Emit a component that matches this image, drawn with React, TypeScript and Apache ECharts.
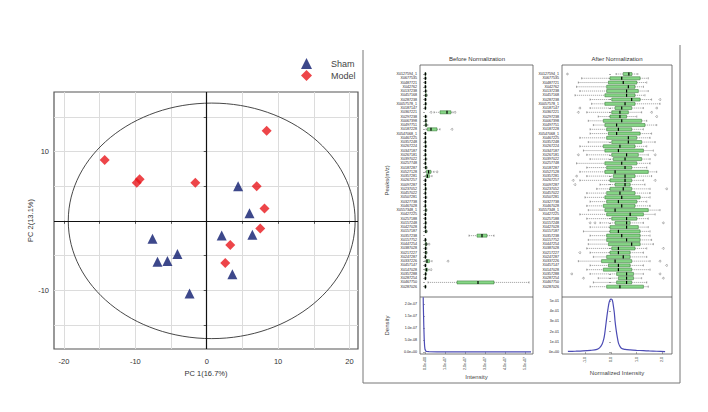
import React, { useEffect, useRef } from "react";
import * as echarts from "echarts";

// ---------- PCA scores ----------
const shamPoints = [
  [4.4, 5.0], [6.0, 1.1], [6.4, -2.0], [2.1, -2.1], [3.6, -7.7],
  [-7.6, -2.6], [-6.9, -5.9], [-5.5, -5.8], [-4.1, -4.8], [-2.4, -10.5],
];
const modelPoints = [
  [8.4, 13.0], [-14.3, 8.8], [-9.8, 5.5], [-9.4, 6.0], [-1.6, 5.5],
  [7.0, 5.0], [8.1, 1.8], [7.5, -1.1], [3.3, -3.5], [2.6, -6.1],
];
// [centerX, centerY, radiusX, radiusY] of the confidence ellipse
const ellipse = [0.7, 0, 20.1, 17.0];
const pcaXLabels = [-20, -10, 0, 10, 20];
const pcaXTicks = [-20, -15, -10, -5, 0, 5, 10, 15, 20];
const pcaYLabels = [-10, 10];
const pcaYTicks = [-15, -10, -5, 0, 5, 10, 15];

// ---------- Normalization plots ----------
const peakLabels = [
  "X0127594_1", "X0677535", "X0487721", "X042762", "X0137238", "X0457168", "X0287238",
  "X0057578_1", "X0187147", "X0367221", "X0297238", "X0067398", "X0497751", "X0187228",
  "X0547068_1", "X0467225", "X0357248", "X0267224", "X0347187", "X0267181", "X0397022",
  "X0257748", "X0187287", "X0527128", "X0357281", "X0267257", "X0097287", "X0237052",
  "X0457022", "X0507281", "X0327738", "X0467028", "X0557348_1", "X0427225", "X0257188",
  "X0157248", "X0427028", "X0157187", "X0357238", "X0157752", "X0447254", "X0387028",
  "X0217227", "X0247287", "X0337226", "X0457147", "X0147028", "X0357288", "X0287254",
  "X0467750", "X0287026",
];

// intensity in units of 1e7: [lowWhisker, Q1, median, Q3, highWhisker]
const beforeBoxes = [
  [0, 0.01, 0.02, 0.03, 0.06], [0, 0.01, 0.02, 0.04, 0.07], [0, 0.01, 0.02, 0.03, 0.05],
  [0, 0.01, 0.02, 0.04, 0.06], [0, 0.02, 0.03, 0.05, 0.09], [0, 0.02, 0.04, 0.07, 0.12],
  [0, 0.01, 0.02, 0.04, 0.07], [0, 0.01, 0.03, 0.05, 0.08], [0, 0.01, 0.02, 0.03, 0.05],
  [0.45, 0.75, 1.1, 1.3, 1.4], [0, 0.01, 0.03, 0.05, 0.09], [0, 0.02, 0.04, 0.06, 0.1],
  [0, 0.02, 0.05, 0.08, 0.14], [0.05, 0.12, 0.3, 0.6, 0.75], [0, 0.01, 0.02, 0.04, 0.06],
  [0, 0.01, 0.02, 0.03, 0.05], [0, 0.01, 0.02, 0.04, 0.07], [0, 0.01, 0.03, 0.05, 0.08],
  [0, 0.01, 0.02, 0.03, 0.06], [0, 0.01, 0.02, 0.04, 0.07], [0, 0.02, 0.03, 0.05, 0.09],
  [0, 0.01, 0.02, 0.04, 0.06], [0, 0.02, 0.04, 0.07, 0.11], [0.02, 0.08, 0.18, 0.3, 0.45],
  [0.01, 0.06, 0.12, 0.22, 0.35], [0, 0.01, 0.02, 0.04, 0.07], [0, 0.01, 0.02, 0.03, 0.05],
  [0, 0.01, 0.03, 0.05, 0.08], [0, 0.01, 0.02, 0.04, 0.06], [0, 0.02, 0.03, 0.05, 0.09],
  [0, 0.01, 0.02, 0.04, 0.07], [0, 0.01, 0.02, 0.03, 0.05], [0, 0.02, 0.04, 0.06, 0.1],
  [0, 0.01, 0.02, 0.04, 0.07], [0, 0.01, 0.02, 0.03, 0.06], [0, 0.01, 0.03, 0.05, 0.08],
  [0, 0.01, 0.02, 0.04, 0.06], [0, 0.02, 0.04, 0.07, 0.12], [2.2, 2.6, 2.85, 3.1, 3.45],
  [0, 0.01, 0.02, 0.04, 0.07], [0, 0.02, 0.05, 0.08, 0.13], [0, 0.01, 0.03, 0.05, 0.09],
  [0, 0.02, 0.04, 0.07, 0.11], [0, 0.01, 0.02, 0.04, 0.07], [0, 0.05, 0.1, 0.22, 0.35],
  [0, 0.01, 0.02, 0.04, 0.06], [0, 0.03, 0.07, 0.12, 0.2], [0, 0.01, 0.03, 0.05, 0.08],
  [0, 0.01, 0.02, 0.04, 0.06], [0.15, 1.6, 2.65, 3.45, 5.2], [0, 0.01, 0.02, 0.03, 0.06],
];
// [rowIndex, value]
const beforeOutliers = [
  [9, 0.3], [9, 1.5], [13, 1.35], [44, 1.15], [23, 0.6], [46, 0.3], [40, 0.2],
];

// normalized intensity: [lowWhisker, Q1, median, Q3, highWhisker]
const afterBoxes = [
  [0.2, 0.48, 0.7, 0.82, 1.05], [-1.15, -0.04, 0.42, 1.14, 1.46], [-1.28, -0.1, 0.48, 1.01, 1.4],
  [-1.35, -0.17, 0.68, 0.94, 1.27], [-1.22, -0.17, 0.61, 1.07, 1.46], [-1.41, -0.24, 0.61, 0.94, 1.33],
  [-0.82, 0.03, 0.81, 1.14, 1.59], [-0.76, -0.24, 0.55, 0.94, 1.92], [-0.82, 0.16, 0.42, 0.81, 1.27],
  [-0.95, 0.03, 0.35, 0.68, 1.2], [-0.5, -0.04, 0.35, 0.61, 1.01], [-0.89, -0.3, 0.42, 1.2, 1.4],
  [-0.69, -0.24, 0.22, 1.33, 1.79], [-0.82, -0.17, 0.29, 0.81, 1.27], [-0.82, -0.1, 0.22, 1.14, 1.59],
  [-1.22, -0.17, 0.68, 1.01, 1.53], [-0.89, 0.03, 0.68, 1.2, 1.73], [-1.22, -0.3, 0.35, 0.94, 1.4],
  [-1.08, -0.24, 0.29, 1.27, 1.66], [-0.95, 0.03, 0.61, 1.07, 1.46], [-0.82, 0.09, 0.55, 1.2, 1.53],
  [-1.35, -0.24, 0.42, 1.01, 1.53], [-0.95, -0.17, 0.55, 0.81, 1.4], [-1.22, -0.24, 0.16, 1.46, 1.79],
  [-0.95, 0.09, 0.55, 0.94, 1.59], [-1.22, -0.04, 0.55, 0.81, 1.27], [-0.43, 0.16, 0.55, 0.75, 1.33],
  [-0.56, -0.04, 0.48, 0.81, 1.53], [-0.95, -0.17, 0.35, 0.94, 1.53], [-1.02, -0.24, 0.42, 1.14, 1.53],
  [-0.82, -0.17, 0.29, 1.01, 1.4], [-0.95, -0.3, 0.42, 0.94, 1.53], [-0.89, -0.24, 0.16, 1.46, 1.92],
  [-1.22, -0.17, 0.75, 1.27, 1.73], [-0.95, 0.03, 0.61, 1.01, 1.46], [-0.43, 0.16, 0.61, 0.75, 1.27],
  [-0.82, -0.04, 0.61, 1.07, 1.46], [-1.08, -0.04, 0.29, 1.14, 1.53], [-0.82, -0.17, 0.42, 1.14, 1.53],
  [-0.89, -0.17, 0.61, 1.14, 1.59], [-0.89, -0.1, 0.81, 1.14, 1.66], [-0.95, 0.03, 0.29, 0.94, 1.4],
  [-0.82, -0.04, 0.29, 0.75, 1.27], [-0.69, -0.17, 0.48, 0.75, 1.4], [-1.28, -0.37, 0.16, 0.81, 1.53],
  [-0.82, -0.1, 0.29, 0.75, 1.27], [-0.95, -0.3, 0.29, 0.81, 1.53], [-0.82, 0.22, 0.61, 0.88, 1.27],
  [-0.5, 0.29, 0.61, 0.88, 1.2], [-0.69, 0.22, 0.61, 0.81, 1.4], [-0.82, -0.17, 0.35, 1.27, 1.46],
];
const afterOutliers = [
  [0, -1.71], [6, 1.92], [8, -1.22], [8, 1.79], [9, -1.28], [9, 1.59], [10, 1.79],
  [19, -1.28], [19, 1.73], [24, -1.35], [25, -1.48], [25, 1.73], [26, -1.41], [27, 2.18],
  [35, -0.82], [35, -0.63], [35, 2.05], [41, 2.05], [42, -1.22], [44, 1.92], [45, 2.18],
  [47, -1.54], [47, 1.92], [48, -1.08], [48, 2.05],
];

// density curves [x, density]
const beforeDensity = [
  [-0.09, 4.55], [-0.08, 3.6], [-0.06, 2.2], [-0.04, 1.1], [-0.02, 0.5], [0.0, 0.22],
  [0.03, 0.09], [0.08, 0.04], [0.2, 0.02], [0.6, 0.01], [1.5, 0.008], [2.5, 0.006],
  [3.5, 0.004], [4.5, 0.003], [5.3, 0.002],
];
const afterDensity = [
  [-1.69, 0.05], [-1.4, 0.07], [-1.1, 0.1], [-0.8, 0.16], [-0.55, 0.25], [-0.45, 0.4],
  [-0.35, 0.75], [-0.28, 1.3], [-0.24, 1.9], [-0.2, 2.7], [-0.16, 3.5], [-0.12, 4.2],
  [-0.08, 4.8], [-0.04, 5.1], [0.0, 5.2], [0.04, 5.15], [0.07, 4.9], [0.1, 4.4],
  [0.13, 3.85], [0.16, 3.0], [0.2, 2.2], [0.25, 1.4], [0.29, 0.9], [0.35, 0.55],
  [0.42, 0.33], [0.55, 0.25], [0.75, 0.2], [1.0, 0.16], [1.27, 0.13], [1.5, 0.1],
  [1.79, 0.07], [2.12, 0.04],
];

const beforeXTicks = [0, 1, 2, 3, 4, 5];
const beforeXTickLabels = ["0.0e+00", "1.0e+07", "2.0e+07", "3.0e+07", "4.0e+07", "5.0e+07"];
const beforeYTicks = [0, 1, 2, 3, 4];
const beforeYTickLabels = ["0.0e+00", "5.0e-08", "1.0e-07", "1.5e-07", "2.0e-07"];
const afterXTicks = [-1, 0, 1, 2];
const afterXTickLabels = ["-1.0", "0.0", "1.0", "2.0"];
const afterYTicks = [0, 1, 2, 3, 4, 5];
const afterYTickLabels = ["0e+00", "1e-01", "2e-01", "3e-01", "4e-01", "5e-01"];

const FONT = "'Liberation Sans', Arial, sans-serif";

function renderBox(params: any, api: any) {
  const row = api.value(0);
  const lo = api.coord([api.value(1), row]);
  const q1 = api.coord([api.value(2), row]);
  const med = api.coord([api.value(3), row]);
  const q3 = api.coord([api.value(4), row]);
  const hi = api.coord([api.value(5), row]);
  const band = api.size([0, 1])[1];
  const h = band * 0.72;
  const y = lo[1];
  const dash = { stroke: "#555", lineWidth: 0.5, lineDash: [1.2, 0.8] };
  const solid = { stroke: "#555", lineWidth: 0.5 };
  return {
    type: "group",
    children: [
      { type: "line", shape: { x1: lo[0], y1: y, x2: q1[0], y2: y }, style: dash },
      { type: "line", shape: { x1: q3[0], y1: y, x2: hi[0], y2: y }, style: dash },
      { type: "line", shape: { x1: lo[0], y1: y - h / 3, x2: lo[0], y2: y + h / 3 }, style: solid },
      { type: "line", shape: { x1: hi[0], y1: y - h / 3, x2: hi[0], y2: y + h / 3 }, style: solid },
      {
        type: "rect",
        shape: { x: q1[0], y: y - h / 2, width: Math.max(q3[0] - q1[0], 0.6), height: h },
        style: { fill: "#86d686", stroke: "#2f6f2f", lineWidth: 0.5 },
      },
      { type: "line", shape: { x1: med[0], y1: y - h / 2, x2: med[0], y2: y + h / 2 }, style: { stroke: "#000", lineWidth: 1.2 } },
    ],
  };
}

function renderEllipse(params: any, api: any) {
  const c = api.coord([api.value(0), api.value(1)]);
  const s = api.size([api.value(2), api.value(3)]);
  return {
    type: "ellipse",
    shape: { cx: c[0], cy: c[1], rx: s[0], ry: s[1] },
    style: { fill: "none", stroke: "#333", lineWidth: 0.9 },
    silent: true,
  };
}

const tickFmt = (ticks: number[], labels: string[]) => (v: number) => {
  const i = ticks.findIndex((t) => Math.abs(t - v) < 1e-9);
  return i >= 0 ? labels[i] : "";
};

export default function App() {
  const ref = useRef<HTMLDivElement>(null);
  useEffect(() => {
    if (!ref.current) return;
    const chart = echarts.init(ref.current, undefined, { renderer: "svg" });
    const smallLabel = { fontSize: 3.6, color: "#222", fontFamily: FONT };
    const smallTick = { show: true, length: 2, lineStyle: { color: "#555", width: 0.5 } };
    const outlierStyle = { color: "transparent", borderColor: "#555", borderWidth: 0.5 };
    const option: any = {
      animation: false,
      backgroundColor: "#fff",
      textStyle: { fontFamily: FONT },
      legend: {
        data: ["Sham", "Model"],
        orient: "vertical",
        left: 301,
        top: 58,
        padding: 0,
        itemWidth: 11,
        itemHeight: 11,
        itemGap: 1,
        textStyle: { fontSize: 9, color: "#444", padding: [0, 0, 0, 14], fontFamily: FONT },
      },
      grid: [
        { left: 54, top: 92, width: 304, height: 257, show: true, borderColor: "#555", borderWidth: 1.2, backgroundColor: "transparent" },
        { left: 420, top: 71.9, width: 113, height: 216.9 },
        { left: 420, top: 297, width: 113, height: 57 },
        { left: 562, top: 71.9, width: 110, height: 216.9 },
        { left: 562, top: 297, width: 110, height: 57 },
      ],
      xAxis: [
        {
          gridIndex: 0, type: "value", min: -21.4, max: 21.2,
          axisLine: { show: false },
          axisTick: { show: true, length: 3, customValues: pcaXTicks, lineStyle: { color: "#555" } },
          axisLabel: { customValues: pcaXLabels, fontSize: 7.5, color: "#333", margin: 8 },
          splitLine: { show: true, lineStyle: { color: "#dcdcdc", width: 1 } },
          name: "PC 1(16.7%)", nameLocation: "middle", nameGap: 19,
          nameTextStyle: { fontSize: 7.5, color: "#333" },
        },
        {
          gridIndex: 1, type: "value", min: -0.25, max: 5.4,
          axisLine: { show: false }, axisTick: { show: false }, axisLabel: { show: false }, splitLine: { show: false },
        },
        {
          gridIndex: 2, type: "value", min: -0.25, max: 5.4,
          axisLine: { show: false },
          axisTick: { ...smallTick, customValues: beforeXTicks },
          axisLabel: { ...smallLabel, customValues: beforeXTicks, rotate: 90, margin: 3, formatter: tickFmt(beforeXTicks, beforeXTickLabels) },
          splitLine: { show: false },
          name: "Intensity", nameLocation: "middle", nameGap: 16,
          nameTextStyle: { fontSize: 6, color: "#444" },
        },
        {
          gridIndex: 3, type: "value", min: -1.92, max: 2.39,
          axisLine: { show: false }, axisTick: { show: false }, axisLabel: { show: false }, splitLine: { show: false },
        },
        {
          gridIndex: 4, type: "value", min: -1.92, max: 2.39,
          axisLine: { show: false },
          axisTick: { ...smallTick, customValues: afterXTicks },
          axisLabel: { ...smallLabel, customValues: afterXTicks, rotate: 90, margin: 3, formatter: tickFmt(afterXTicks, afterXTickLabels) },
          splitLine: { show: false },
          name: "Normalized Intensity", nameLocation: "middle", nameGap: 16,
          nameTextStyle: { fontSize: 6, color: "#444" },
        },
      ],
      yAxis: [
        {
          gridIndex: 0, type: "value", min: -18.5, max: 18.6,
          axisLine: { show: false },
          axisTick: { show: true, length: 3, customValues: pcaYTicks, lineStyle: { color: "#555" } },
          axisLabel: { customValues: pcaYLabels, fontSize: 7.5, color: "#333", margin: 5 },
          splitLine: { show: true, lineStyle: { color: "#dcdcdc", width: 1 } },
          name: "PC 2(13.1%)", nameLocation: "middle", nameGap: 18,
          nameTextStyle: { fontSize: 7.5, color: "#333" },
        },
        {
          gridIndex: 1, type: "category", data: peakLabels, inverse: true,
          axisLine: { show: false },
          axisTick: { ...smallTick, interval: 0, alignWithLabel: true },
          axisLabel: { ...smallLabel, interval: 0, margin: 3 },
          splitLine: { show: false },
          name: "Peaks(m/z)", nameLocation: "middle", nameGap: 30,
          nameTextStyle: { fontSize: 6, color: "#444" },
        },
        {
          gridIndex: 2, type: "value", min: -0.17, max: 4.58,
          axisLine: { show: false },
          axisTick: { ...smallTick, customValues: beforeYTicks },
          axisLabel: { ...smallLabel, customValues: beforeYTicks, margin: 3, formatter: tickFmt(beforeYTicks, beforeYTickLabels) },
          splitLine: { show: false },
          name: "Density", nameLocation: "middle", nameGap: 30,
          nameTextStyle: { fontSize: 6, color: "#444" },
        },
        {
          gridIndex: 3, type: "category", data: peakLabels, inverse: true,
          axisLine: { show: false },
          axisTick: { ...smallTick, interval: 0, alignWithLabel: true },
          axisLabel: { ...smallLabel, interval: 0, margin: 3 },
          splitLine: { show: false },
        },
        {
          gridIndex: 4, type: "value", min: -0.2, max: 5.4,
          axisLine: { show: false },
          axisTick: { ...smallTick, customValues: afterYTicks },
          axisLabel: { ...smallLabel, customValues: afterYTicks, margin: 3, formatter: tickFmt(afterYTicks, afterYTickLabels) },
          splitLine: { show: false },
        },
      ],
      series: [
        {
          type: "custom", name: "ellipse", xAxisIndex: 0, yAxisIndex: 0, silent: true,
          renderItem: renderEllipse, encode: { x: 0, y: 1 }, data: [ellipse], z: 1,
        },
        {
          type: "scatter", name: "Sham", xAxisIndex: 0, yAxisIndex: 0,
          symbol: "triangle", symbolSize: 10, itemStyle: { color: "#0d1a6e" }, data: shamPoints, z: 3,
          markLine: {
            silent: true, symbol: "none", label: { show: false },
            lineStyle: { color: "#111", width: 1.2, type: "solid" },
            data: [{ xAxis: 0 }, { yAxis: 0 }],
          },
        },
        {
          type: "scatter", name: "Model", xAxisIndex: 0, yAxisIndex: 0,
          symbol: "diamond", symbolSize: 10, itemStyle: { color: "#e8161b" }, data: modelPoints, z: 3,
        },
        {
          type: "custom", name: "beforeBox", xAxisIndex: 1, yAxisIndex: 1, silent: true,
          renderItem: renderBox, encode: { x: [1, 2, 3, 4, 5], y: 0 },
          data: beforeBoxes.map((b, i) => [i, ...b]),
        },
        {
          type: "scatter", name: "beforeOut", xAxisIndex: 1, yAxisIndex: 1, silent: true,
          symbol: "circle", symbolSize: 1.8, itemStyle: outlierStyle,
          data: beforeOutliers.map((o) => [o[1], o[0]]),
        },
        {
          type: "line", name: "beforeDensity", xAxisIndex: 2, yAxisIndex: 2, silent: true,
          showSymbol: false, data: beforeDensity, lineStyle: { color: "#4b4bb4", width: 1.2 },
        },
        {
          type: "custom", name: "afterBox", xAxisIndex: 3, yAxisIndex: 3, silent: true,
          renderItem: renderBox, encode: { x: [1, 2, 3, 4, 5], y: 0 },
          data: afterBoxes.map((b, i) => [i, ...b]),
        },
        {
          type: "scatter", name: "afterOut", xAxisIndex: 3, yAxisIndex: 3, silent: true,
          symbol: "circle", symbolSize: 1.8, itemStyle: outlierStyle,
          data: afterOutliers.map((o) => [o[1], o[0]]),
        },
        {
          type: "line", name: "afterDensity", xAxisIndex: 4, yAxisIndex: 4, silent: true,
          showSymbol: false, smooth: 0.3, data: afterDensity, lineStyle: { color: "#4b4bb4", width: 1.2 },
        },
      ],
      graphic: [
        { type: "rect", shape: { x: 420, y: 65, width: 113, height: 289 }, style: { fill: "none", stroke: "#555", lineWidth: 0.8 }, silent: true },
        { type: "line", shape: { x1: 420, y1: 297, x2: 533, y2: 297 }, style: { stroke: "#555", lineWidth: 0.8 }, silent: true },
        { type: "rect", shape: { x: 562, y: 65, width: 110, height: 289 }, style: { fill: "none", stroke: "#555", lineWidth: 0.8 }, silent: true },
        { type: "line", shape: { x1: 562, y1: 297, x2: 672, y2: 297 }, style: { stroke: "#555", lineWidth: 0.8 }, silent: true },
        { type: "line", shape: { x1: 363, y1: 50, x2: 363, y2: 383 }, style: { stroke: "#777", lineWidth: 1 }, silent: true },
        { type: "line", shape: { x1: 363, y1: 383, x2: 680, y2: 383 }, style: { stroke: "#777", lineWidth: 1 }, silent: true },
        { type: "line", shape: { x1: 680, y1: 45, x2: 680, y2: 383 }, style: { stroke: "#777", lineWidth: 1 }, silent: true },
        { type: "text", x: 477, y: 59, style: { text: "Before Normalization", fontSize: 6, fill: "#333", align: "center", verticalAlign: "middle", fontFamily: FONT }, silent: true },
        { type: "text", x: 617, y: 59, style: { text: "After Normalization", fontSize: 6, fill: "#333", align: "center", verticalAlign: "middle", fontFamily: FONT }, silent: true },
      ],
    };
    chart.setOption(option);
    return () => chart.dispose();
  }, []);
  return (
    <div
      ref={ref}
      style={{ position: "absolute", left: 0, top: 0, width: 708, height: 412, background: "#fff" }}
    />
  );
}
